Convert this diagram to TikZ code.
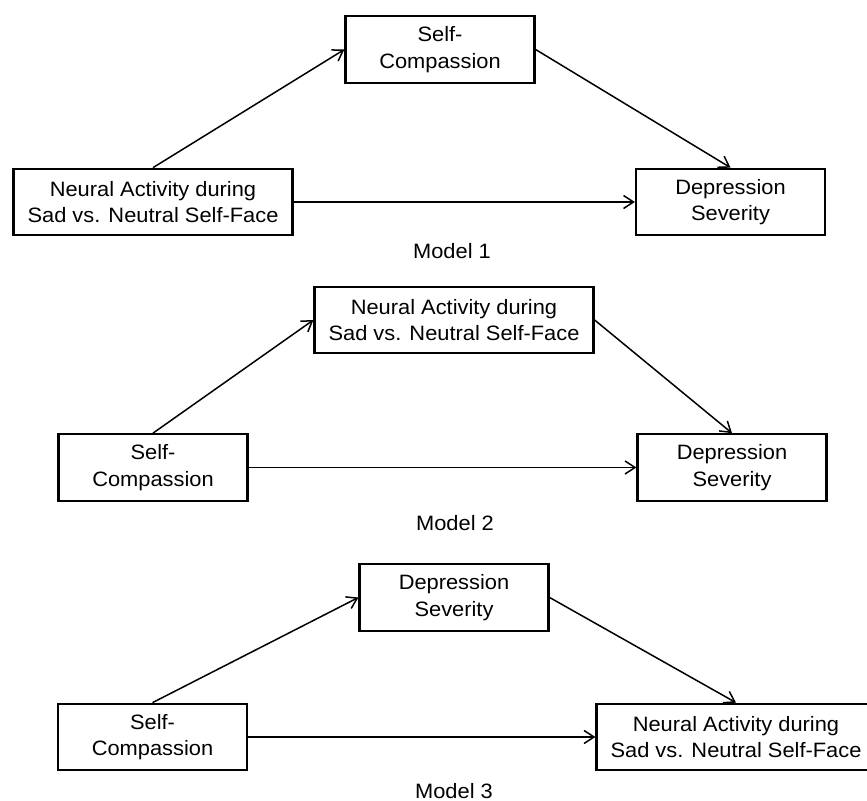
\documentclass[tikz,border=0pt]{standalone}
\usepackage{fontspec}
\setmainfont{Liberation Sans}[FakeStretch=1.05]
\usetikzlibrary{arrows.meta}

\tikzset{
  varbox/.style={draw, line width=1.1pt, inner sep=0pt, align=center, minimum height=33.25pt,
    font=\fontsize{10.4pt}{13.3pt}\selectfont},
  shortbox/.style={varbox, minimum width=94.5pt},
  longbox/.style={varbox, minimum width=139.5pt},
  path/.style={->, line width=0.75pt},
  modlabel/.style={font=\fontsize{10.4pt}{12pt}\selectfont}
}

\begin{document}
\begin{tikzpicture}[x=0.5pt, y=-0.5pt, >={Straight Barb[length=5pt,width=6.5pt]}]

\useasboundingbox (0,0) rectangle (867,801);

% Model 1
\node[shortbox] (cmp1) at (440,49.5) {Self-\\Compassion};
\node[longbox]  (nrl1) at (153,202) {Neural Activity during\\Sad vs. Neutral Self-Face};
\node[shortbox] (dep1) at (730.5,202) {Depression\\Severity};
\draw[path] (nrl1.north) -- (cmp1.west);
\draw[path] (cmp1.east) -- (dep1.north);
\draw[path] (nrl1.east) -- (dep1.west);
\node[modlabel] (mod1) at (452,251) {Model 1};

% Model 2
\node[longbox]  (nrl2) at (454,320) {Neural Activity during\\Sad vs. Neutral Self-Face};
\node[shortbox] (cmp2) at (153,467.5) {Self-\\Compassion};
\node[shortbox] (dep2) at (732,467.5) {Depression\\Severity};
\draw[path] (cmp2.north) -- (nrl2.west);
\draw[path] (nrl2.east) -- (dep2.north);
\draw[path] (cmp2.east) -- (dep2.west);
\node[modlabel] (mod2) at (455,523) {Model 2};

% Model 3
\node[shortbox] (dep3) at (454,597.5) {Depression\\Severity};
\node[shortbox] (cmp3) at (152.5,737) {Self-\\Compassion};
\node[longbox]  (nrl3) at (736,737) {Neural Activity during\\Sad vs. Neutral Self-Face};
\draw[path] (cmp3.north) -- (dep3.west);
\draw[path] (dep3.east) -- (nrl3.north);
\draw[path] (cmp3.east) -- (nrl3.west);
\node[modlabel] (mod3) at (454,791) {Model 3};

\end{tikzpicture}
\end{document}
